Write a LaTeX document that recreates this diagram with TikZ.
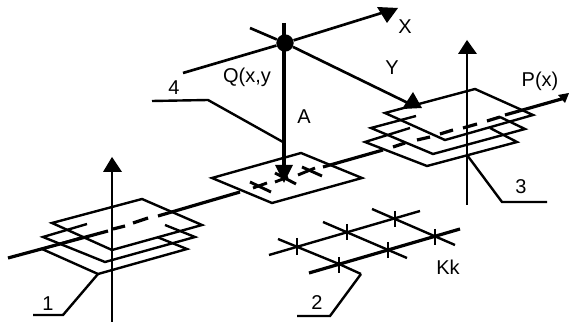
\documentclass[tikz,border=0pt]{standalone}
\usepackage{fontspec}
\setmainfont{Liberation Sans}
\tikzset{
  plate/.style={line width=1.8pt,line join=miter},
  shaft/.style={line width=2pt},
  tick/.style={line width=2.2pt},
  rail/.style={line width=2.4pt},
  head/.style={fill=black,draw=none},
  lbl/.style={inner sep=0.75pt,font=\fontsize{15}{17}\selectfont},
  pin/.style={circle,fill=black,inner sep=0pt,minimum size=13}
}

\begin{document}
\begin{tikzpicture}[x=0.75pt,y=0.75pt,yscale=-1,xscale=1]
\useasboundingbox (0,0) rectangle (569,324);

% Named points
\node (pinQ) [pin] at (285,43) {};
\coordinate (xStart) at (183,73);
\coordinate (xEnd) at (388,11);
\coordinate (yStart) at (250,28);
\coordinate (yEnd) at (408,103);
\coordinate (aStart) at (284,23);
\coordinate (aEnd) at (284,170);
\coordinate (leftTop) at (112,165);
\coordinate (leftFoot) at (112,322);
\coordinate (rightTop) at (467,48);
\coordinate (rightFoot) at (467,205);
\coordinate (leftPlate) at (98,274);
\coordinate (rightPlate) at (467,155);
\coordinate (gridEnd) at (361,274);
\coordinate (bend1) at (63,315);
\coordinate (end1) at (33,315);
\coordinate (bend2) at (330,316);
\coordinate (end2) at (297,316);
\coordinate (bend3) at (502,202);
\coordinate (end3) at (547,202);
\coordinate (bend4) at (208,100);
\coordinate (end4) at (152,101);
\coordinate (shaft4) at (283,142);

% Shaft lines
\draw [shaft] (xStart) -- (pinQ) -- (xEnd);
\draw [shaft] (yStart) -- (pinQ) -- (yEnd);
\draw [line width=3.4pt] (aStart) -- (aEnd);
\draw [shaft] (leftTop) -- (leftFoot);
\draw [shaft] (rightTop) -- (rightFoot);

% Arrow heads
\fill [head] (377,7) -- (398,8) -- (387,23) -- cycle;
\fill [head] (413,92) -- (422,108) -- (402,109) -- cycle;
\fill [head] (275,165) -- (293,165) -- (284,183) -- cycle;
\fill [head] (112,157) -- (122,172) -- (103,172) -- cycle;
\fill [head] (467,40) -- (477,54) -- (458,54) -- cycle;
\fill [head] (558,95) -- (569,93) -- (565,103) -- cycle;

% Main line, left part
\draw [rail] (8,258) -- (108,231);
\draw [rail] (113,229) -- (125,226);
\draw [rail] (133,223) -- (148,218);
\draw [rail] (158,216) -- (240,192);
\draw [rail] (323,167) -- (383,150);
% Main line, right part
\draw [rail] (393,147) -- (405,143);
\draw [rail] (417,140) -- (430,137);
\draw [rail] (440,134) -- (453,130);
\draw [rail] (463,128) -- (477,124);
\draw [rail] (487,121) -- (500,117);
\draw [rail] (505,115) -- (565,98);

% Left plates
\draw [plate] (52,223) -- (142,199) -- (202,225) -- (112,250) -- cycle;
\draw [plate] (87,224) -- (43,237) -- (105,262) -- (195,237) -- (165,225);
\draw [plate] (83,237) -- (42,249) -- (98,274) -- (187,249) -- (157,237);

% Middle plate
\draw [plate] (212,178) -- (301,153) -- (362,178) -- (272,203) -- cycle;
\draw [tick] (250,182) -- (271,192);
\draw [tick] (253,188) -- (267,183);
\draw [tick] (275,173) -- (296,184);
\draw [tick] (275,182) -- (288,177);
\draw [tick] (302,167) -- (322,176);
\draw [tick] (298,175) -- (315,168);

% Right plates
\draw [plate] (385,113) -- (475,89) -- (533,115) -- (445,140) -- cycle;
\draw [plate] (416,116) -- (371,128) -- (433,154) -- (525,129) -- (500,117);
\draw [plate] (410,128) -- (365,142) -- (427,166) -- (517,142) -- (490,128);

% Grid
\draw [plate] (269,255) -- (420,211);
\draw [rail] (309,273) -- (460,229);
\draw [plate] (278,239) -- (339,264) -- (gridEnd);
\draw [plate] (323,222) -- (407,258);
\draw [plate] (372,209) -- (455,245);
\draw [tick] (297,238) -- (297,255);
\draw [tick] (339,257) -- (339,273);
\draw [tick] (347,224) -- (347,240);
\draw [tick] (388,242) -- (388,258);
\draw [tick] (395,211) -- (395,227);
\draw [tick] (435,229) -- (435,245);

% Leader lines
\draw [plate] (leftPlate) -- (bend1) -- (end1);
\draw [plate] (gridEnd) -- (bend2) -- (end2);
\draw [plate] (rightPlate) -- (bend3) -- (end3);
\draw [plate] (shaft4) -- (bend4) -- (end4);

% Text Node
\node (labelX) [lbl] at (405,27) {X};
\node (labelY) [lbl] at (392,68) {Y};
\node (labelQ) [lbl] at (247,77) {Q(x,y};
\node (labelA) [lbl] at (304,117) {A};
\node (labelP) [lbl] at (540,81) {P(x)};
\node (labelK) [lbl] at (448,267) {Kk};
\node (label1) [lbl] at (48,304) {1};
\node (label2) [lbl] at (317,303) {2};
\node (label3) [lbl] at (521,187) {3};
\node (label4) [lbl] at (174,88) {4};
\end{tikzpicture}
\end{document}
